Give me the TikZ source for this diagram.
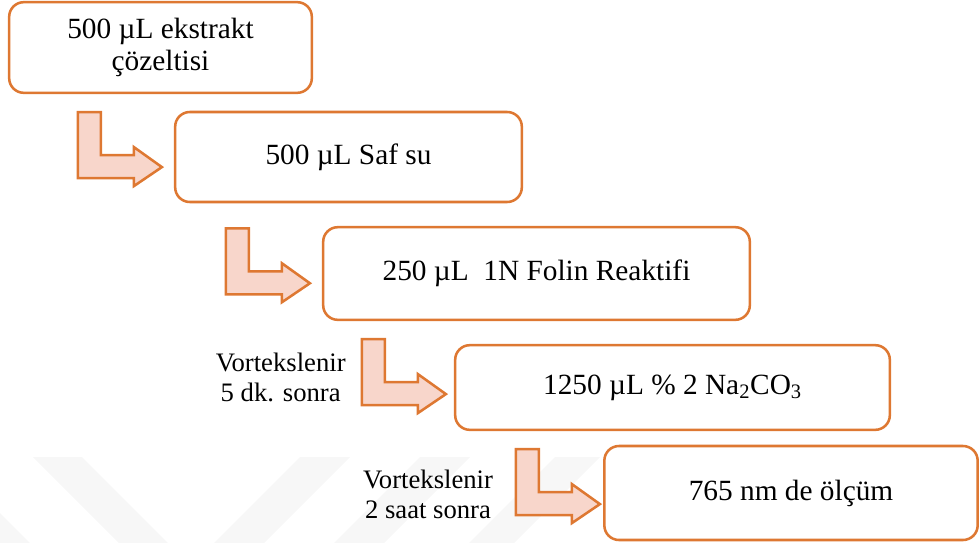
\documentclass[tikz,border=0pt]{standalone}
\usepackage{fontspec}
\setmainfont{Liberation Serif}
\usepackage{tikz}
\usetikzlibrary{calc,positioning}

\definecolor{boxorange}{RGB}{222,120,50}
\definecolor{arrowpink}{RGB}{248,214,203}
\definecolor{markgray}{RGB}{247,247,247}

\tikzset{
  stepbox/.style={draw=boxorange, line width=1.9pt, rounded corners=11pt,
    fill=white, align=center, inner sep=0pt,
    font=\fontsize{22}{23.5}\selectfont},
  arrowshape/.style={draw=boxorange, fill=arrowpink, line width=1.9pt},
  sidenote/.style={align=center, inner sep=0pt,
    font=\fontsize{20}{22.5}\selectfont},
}

\newcommand{\bentarrow}[1]{%
  \filldraw[arrowshape, shift={(#1)}] (0,0) -- (23,0) -- (23,43) -- (56,43)
    -- (56,35) -- (84,55) -- (56,74) -- (56,66) -- (0,66) -- cycle;}

\begin{document}
\begin{tikzpicture}[x=0.75pt, y=-0.75pt]
            \useasboundingbox (0,0) rectangle (979,543);

            % faint background mark
            \fill[markgray] (33,457) -- (82,457) -- (168,543) -- (119,543) -- cycle;
            \fill[markgray] (0,513) -- (30,543) -- (0,543) -- cycle;
            \fill[markgray] (300,457) -- (350,457) -- (264,543) -- (214,543) -- cycle;
            \fill[markgray] (420,457) -- (470,457) -- (384,543) -- (334,543) -- cycle;
            \fill[markgray] (555,457) -- (600,457) -- (514,543) -- (469,543) -- cycle;

            \node[stepbox, minimum width=227pt, minimum height=68pt] (box1) at (160.5,47.5) {500 µL ekstrakt\\çözeltisi};
            \node[stepbox, minimum width=260pt, minimum height=67.5pt] (box2) at (348.5,157) {500 µL Saf su};
            \node[stepbox, minimum width=320pt, minimum height=69.5pt] (box3) at (536.5,273.5) {250 µL\ \ 1N Folin Reaktifi};
            \node[stepbox, minimum width=326pt, minimum height=63.5pt] (box4) at (672.5,387.5) {1250 µL \% 2 Na\textsubscript{2}CO\textsubscript{3}};
            \node[stepbox, minimum width=280pt, minimum height=70.5pt] (box5) at (791,493) {765 nm de ölçüm};

            \coordinate (a1) at ($(box1.south west)+(70,18)$);
            \coordinate (a2) at ($(box2.south west)+(52,25)$);
            \coordinate (a3) at ($(box3.south west)+(40,18)$);
            \coordinate (a4) at ($(box4.south west)+(62,18)$);

            \bentarrow{a1}
            \bentarrow{a2}
            \bentarrow{a3}
            \bentarrow{a4}

            \node[sidenote, left=12pt of a3, yshift=-29pt] (note1) {Vortekslenir\\5 dk. sonra};
            \node[sidenote, left=17pt of a4, yshift=-34pt] (note2) {Vortekslenir\\2 saat sonra};
        \end{tikzpicture}
\end{document}
